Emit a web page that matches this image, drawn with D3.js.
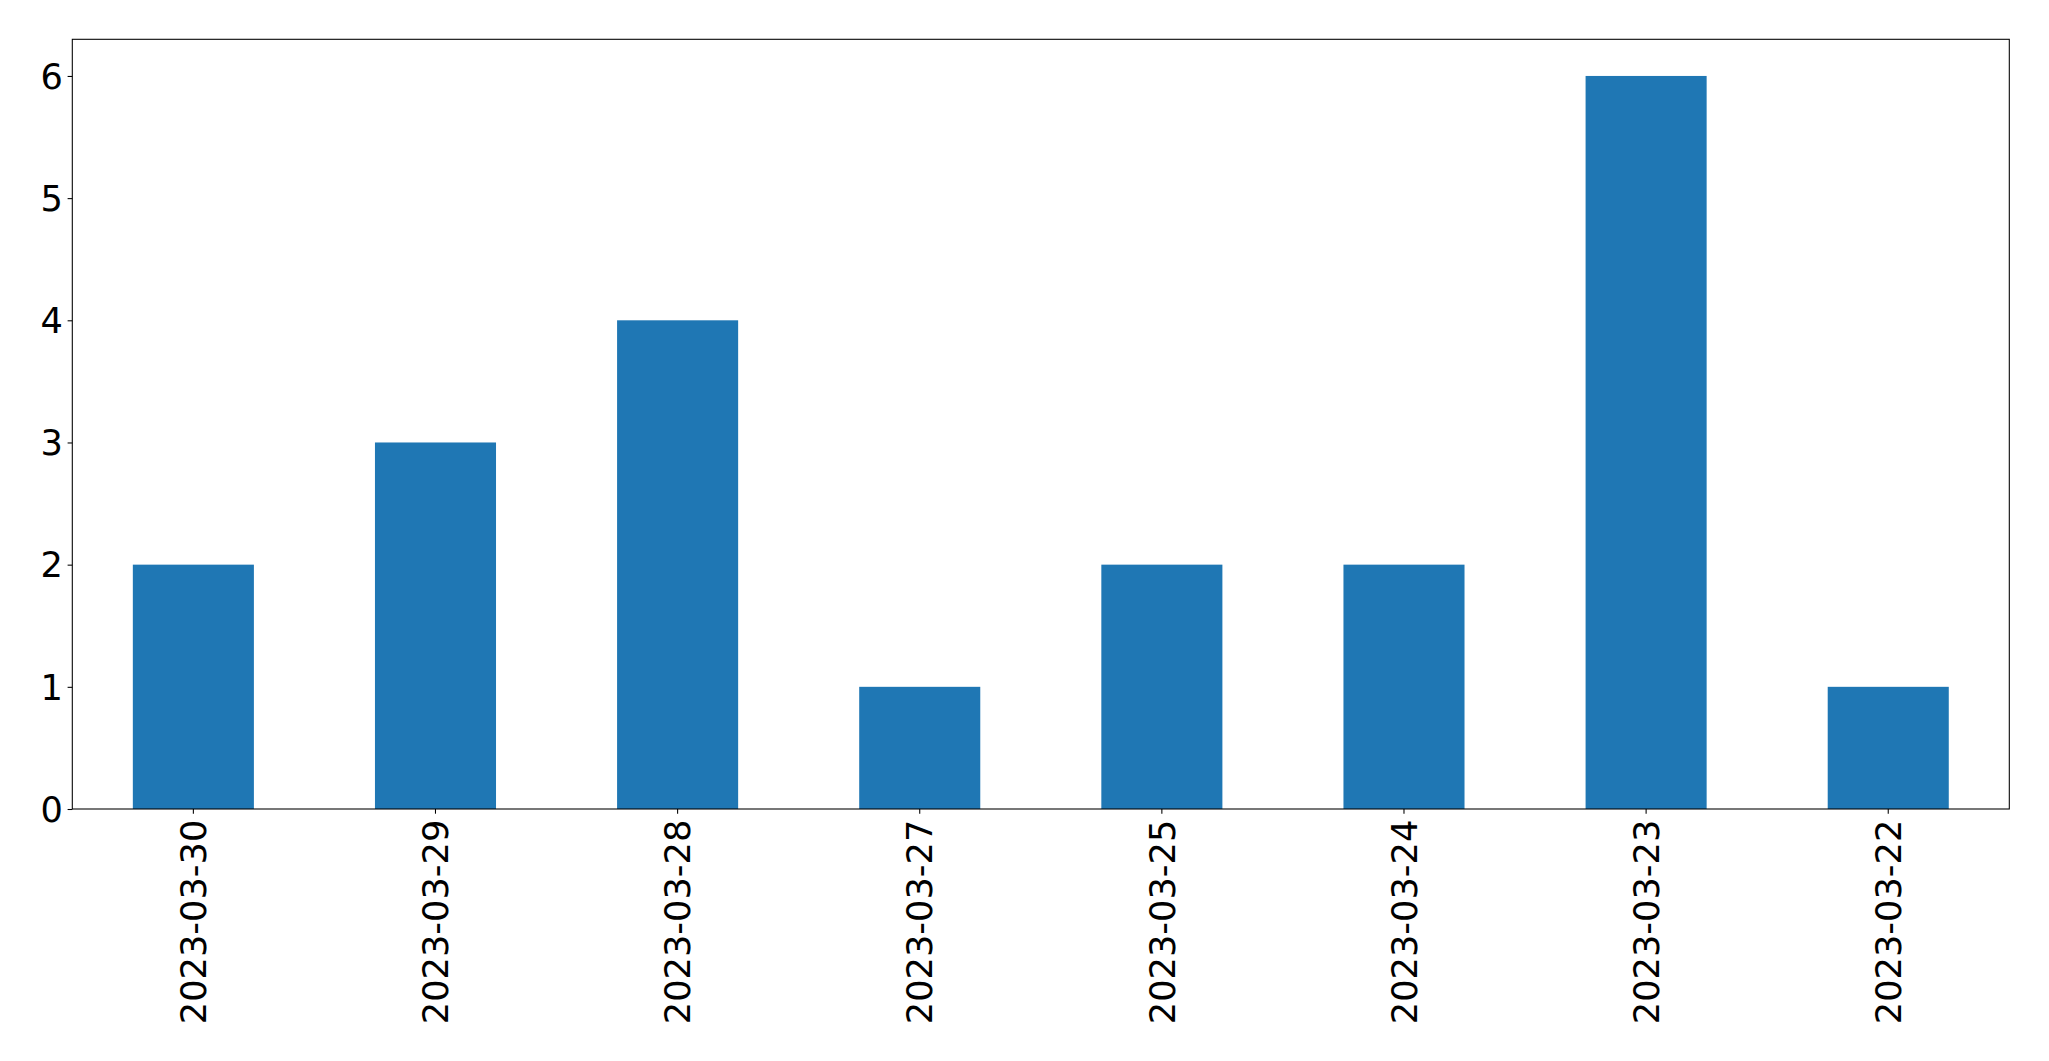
<!DOCTYPE html>
<html><head><meta charset="utf-8">
<script src="https://cdn.jsdelivr.net/npm/d3@7"></script>
<style>html,body{margin:0;padding:0;background:#fff;}svg{display:block;}</style>
</head><body>
<svg id="chart" width="2049" height="1061"></svg>
<script>
const categories = ["2023-03-30","2023-03-29","2023-03-28","2023-03-27","2023-03-25","2023-03-24","2023-03-23","2023-03-22"];
const values = [2,3,4,1,2,2,6,1];
const yTicks = [0,1,2,3,4,5,6];

const W = 2049, H = 1061;
const m = {left: 72.3, top: 39.3, right: 2049 - 2009.3, bottom: 1061 - 809};
const svg = d3.select("#chart");
const iw = W - m.left - m.right, ih = H - m.top - m.bottom;
const g = svg.append("g").attr("transform", `translate(${m.left},${m.top})`);

const x = d3.scaleBand().domain(categories).range([0, iw]).paddingInner(0.5).paddingOuter(0.25);
const y = d3.scaleLinear().domain([0, 6.3]).range([ih, 0]);

g.selectAll("rect.bar").data(values).join("rect")
  .attr("class","bar")
  .attr("x", (d,i) => x(categories[i]))
  .attr("width", x.bandwidth())
  .attr("y", d => y(d))
  .attr("height", d => ih - y(d))
  .attr("fill", "#1f77b4");

const font = "DejaVu Sans, sans-serif";
const fs = 35.2;

const yAxis = g.append("g").call(d3.axisLeft(y).tickValues(yTicks).tickFormat(d3.format("d")).tickSizeOuter(0).tickSize(4.7).tickPadding(4.7));
yAxis.select(".domain").remove();
yAxis.selectAll("line").attr("stroke","#000").attr("stroke-width",1.07);
yAxis.selectAll("text").attr("font-family", font).attr("font-size", fs).attr("fill","#000").attr("dy","0.35em");

const xAxis = g.append("g").attr("transform",`translate(0,${ih})`)
  .call(d3.axisBottom(x).tickSizeOuter(0).tickSize(4.7).tickPadding(0));
xAxis.select(".domain").remove();
xAxis.selectAll("line").attr("stroke","#000").attr("stroke-width",1.07);
xAxis.selectAll("text")
  .attr("font-family", font).attr("font-size", fs).attr("fill","#000")
  .attr("text-anchor","end")
  .attr("transform","rotate(-90)")
  .attr("x", -(4.7 + 6))
  .attr("y", 0)
  .attr("dy","0.36em");

// frame
g.append("rect").attr("x",0).attr("y",0).attr("width",iw).attr("height",ih)
  .attr("fill","none").attr("stroke","#000").attr("stroke-width",1.07);
</script>
</body></html>
